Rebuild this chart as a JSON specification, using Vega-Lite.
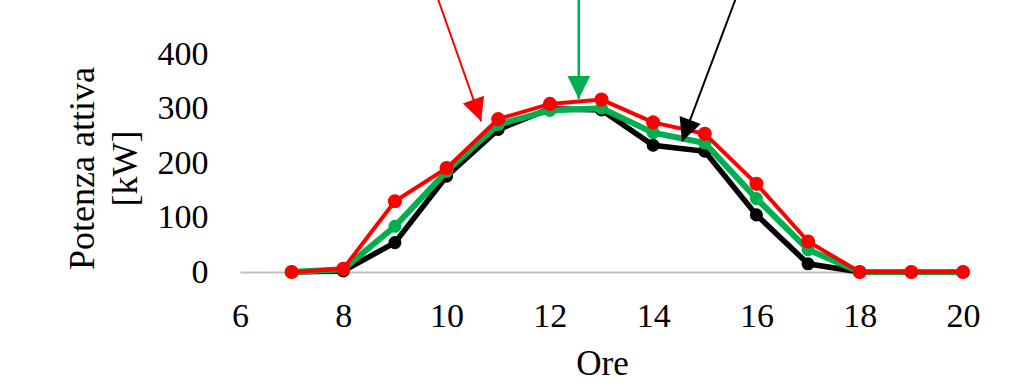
{
  "$schema": "https://vega.github.io/schema/vega-lite/v6.json",
  "width": 723,
  "height": 272,
  "autosize": {"type": "none"},
  "padding": {"left": 240, "top": 0, "right": 61, "bottom": 116},
  "background": "white",
  "config": {
    "view": {"stroke": null},
    "font": "Liberation Serif",
    "axis": {
      "grid": false,
      "ticks": false,
      "tickSize": 0,
      "labelFlush": false,
      "labelOverlap": false,
      "labelFont": "Liberation Serif",
      "titleFont": "Liberation Serif",
      "labelFontSize": 34,
      "titleFontSize": 35,
      "labelColor": "#000000",
      "titleColor": "#000000",
      "titleFontWeight": "normal"
    },
    "axisX": {
      "domainColor": "#bfbfbf",
      "domainWidth": 2,
      "labelPadding": 27,
      "titleBaseline": "alphabetic",
      "titleY": 102,
      "titleX": 362
    },
    "axisY": {
      "domain": false,
      "labelPadding": 32,
      "titleAngle": -90,
      "titleAlign": "center",
      "titleBaseline": "alphabetic",
      "titleFontSize": 36,
      "titleX": -147,
      "titleY": 168,
      "titleLineHeight": 43
    }
  },
  "datasets": {
    "potenza": [
      {"ora": 7, "serie": "Nero", "p": 0},
      {"ora": 8, "serie": "Nero", "p": 2},
      {"ora": 9, "serie": "Nero", "p": 54},
      {"ora": 10, "serie": "Nero", "p": 176},
      {"ora": 11, "serie": "Nero", "p": 262},
      {"ora": 12, "serie": "Nero", "p": 300},
      {"ora": 13, "serie": "Nero", "p": 298},
      {"ora": 14, "serie": "Nero", "p": 233},
      {"ora": 15, "serie": "Nero", "p": 222},
      {"ora": 16, "serie": "Nero", "p": 105},
      {"ora": 17, "serie": "Nero", "p": 15},
      {"ora": 18, "serie": "Nero", "p": 0},
      {"ora": 19, "serie": "Nero", "p": 0},
      {"ora": 20, "serie": "Nero", "p": 0},
      {"ora": 7, "serie": "Verde", "p": 0},
      {"ora": 8, "serie": "Verde", "p": 5},
      {"ora": 9, "serie": "Verde", "p": 84},
      {"ora": 10, "serie": "Verde", "p": 185},
      {"ora": 11, "serie": "Verde", "p": 271},
      {"ora": 12, "serie": "Verde", "p": 297},
      {"ora": 13, "serie": "Verde", "p": 301},
      {"ora": 14, "serie": "Verde", "p": 256},
      {"ora": 15, "serie": "Verde", "p": 237},
      {"ora": 16, "serie": "Verde", "p": 135},
      {"ora": 17, "serie": "Verde", "p": 41},
      {"ora": 18, "serie": "Verde", "p": 0},
      {"ora": 19, "serie": "Verde", "p": 0},
      {"ora": 20, "serie": "Verde", "p": 0},
      {"ora": 7, "serie": "Rosso", "p": 0},
      {"ora": 8, "serie": "Rosso", "p": 6},
      {"ora": 9, "serie": "Rosso", "p": 130},
      {"ora": 10, "serie": "Rosso", "p": 191},
      {"ora": 11, "serie": "Rosso", "p": 281},
      {"ora": 12, "serie": "Rosso", "p": 309},
      {"ora": 13, "serie": "Rosso", "p": 317},
      {"ora": 14, "serie": "Rosso", "p": 275},
      {"ora": 15, "serie": "Rosso", "p": 254},
      {"ora": 16, "serie": "Rosso", "p": 162},
      {"ora": 17, "serie": "Rosso", "p": 56},
      {"ora": 18, "serie": "Rosso", "p": 0},
      {"ora": 19, "serie": "Rosso", "p": 0},
      {"ora": 20, "serie": "Rosso", "p": 0}
    ],
    "frecce": [
      {"serie": "Rosso", "x": 9.84, "y": 500, "x2": 10.67, "y2": 277},
      {"serie": "Verde", "x": 12.56, "y": 500, "x2": 12.56, "y2": 318},
      {"serie": "Nero", "x": 15.59, "y": 500, "x2": 14.56, "y2": 240}
    ]
  },
  "layer": [
    {
      "data": {"name": "potenza"},
      "transform": [{"filter": "datum.serie == 'Nero'"}],
      "mark": {"type": "line", "color": "#000000", "strokeWidth": 5.5, "point": {"filled": true, "size": 170, "color": "#000000"}},
      "encoding": {
        "x": {"field": "ora", "type": "quantitative", "title": "Ore", "scale": {"domain": [6, 20], "nice": false}, "axis": {"values": [6, 8, 10, 12, 14, 16, 18, 20]}},
        "y": {"field": "p", "type": "quantitative", "title": ["Potenza attiva", "[kW]"], "scale": {"domain": [0, 500], "nice": false}, "axis": {"values": [0, 100, 200, 300, 400]}}
      }
    },
    {
      "data": {"name": "potenza"},
      "transform": [{"filter": "datum.serie == 'Verde'"}],
      "mark": {"type": "line", "color": "#00b050", "strokeWidth": 6, "point": {"filled": true, "size": 170, "color": "#00b050"}},
      "encoding": {
        "x": {"field": "ora", "type": "quantitative", "title": "Ore"},
        "y": {"field": "p", "type": "quantitative", "title": ["Potenza attiva", "[kW]"]}
      }
    },
    {
      "data": {"name": "potenza"},
      "transform": [{"filter": "datum.serie == 'Rosso'"}],
      "mark": {"type": "line", "color": "#ff0000", "strokeWidth": 4, "point": {"filled": true, "size": 200, "color": "#ff0000"}},
      "encoding": {
        "x": {"field": "ora", "type": "quantitative", "title": "Ore"},
        "y": {"field": "p", "type": "quantitative", "title": ["Potenza attiva", "[kW]"]}
      }
    },
    {
      "data": {"name": "frecce"},
      "transform": [{"filter": "datum.serie == 'Rosso'"}],
      "layer": [
        {"mark": {"type": "rule", "color": "#ff0000", "strokeWidth": 2, "clip": false},
         "encoding": {"x": {"field": "x", "type": "quantitative", "title": "Ore"}, "y": {"field": "y", "type": "quantitative", "title": ["Potenza attiva", "[kW]"]}, "x2": {"field": "x2"}, "y2": {"field": "y2"}}},
        {"mark": {"type": "point", "filled": true, "opacity": 1, "color": "#ff0000", "shape": "M0,0L-0.98,-2L0.98,-2Z", "size": 529, "angle": -19.5, "clip": false},
         "encoding": {"x": {"field": "x2", "type": "quantitative", "title": "Ore"}, "y": {"field": "y2", "type": "quantitative", "title": ["Potenza attiva", "[kW]"]}}}
      ]
    },
    {
      "data": {"name": "frecce"},
      "transform": [{"filter": "datum.serie == 'Verde'"}],
      "layer": [
        {"mark": {"type": "rule", "color": "#00b050", "strokeWidth": 2.5, "clip": false},
         "encoding": {"x": {"field": "x", "type": "quantitative", "title": "Ore"}, "y": {"field": "y", "type": "quantitative", "title": ["Potenza attiva", "[kW]"]}, "x2": {"field": "x2"}, "y2": {"field": "y2"}}},
        {"mark": {"type": "point", "filled": true, "opacity": 1, "color": "#00b050", "shape": "M0,0L-0.98,-2L0.98,-2Z", "size": 529, "angle": 0, "clip": false},
         "encoding": {"x": {"field": "x2", "type": "quantitative", "title": "Ore"}, "y": {"field": "y2", "type": "quantitative", "title": ["Potenza attiva", "[kW]"]}}}
      ]
    },
    {
      "data": {"name": "frecce"},
      "transform": [{"filter": "datum.serie == 'Nero'"}],
      "layer": [
        {"mark": {"type": "rule", "color": "#000000", "strokeWidth": 2, "clip": false},
         "encoding": {"x": {"field": "x", "type": "quantitative", "title": "Ore"}, "y": {"field": "y", "type": "quantitative", "title": ["Potenza attiva", "[kW]"]}, "x2": {"field": "x2"}, "y2": {"field": "y2"}}},
        {"mark": {"type": "point", "filled": true, "opacity": 1, "color": "#000000", "shape": "M0,0L-0.98,-2L0.98,-2Z", "size": 529, "angle": 20.6, "clip": false},
         "encoding": {"x": {"field": "x2", "type": "quantitative", "title": "Ore"}, "y": {"field": "y2", "type": "quantitative", "title": ["Potenza attiva", "[kW]"]}}}
      ]
    }
  ]
}
